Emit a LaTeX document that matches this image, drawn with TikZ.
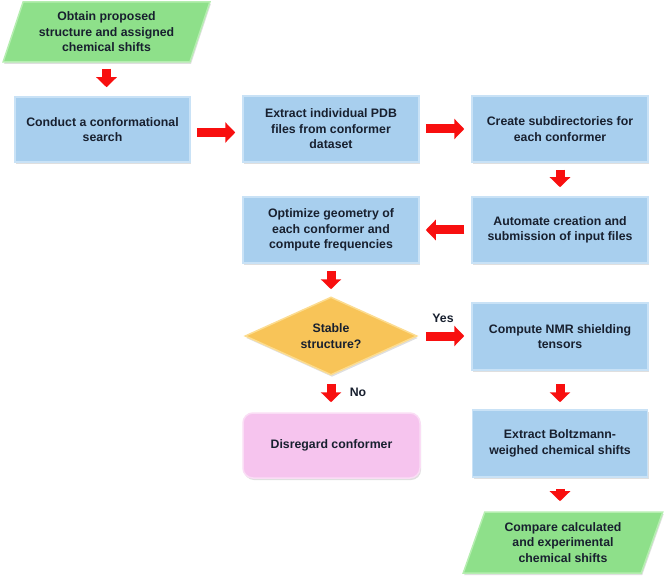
\documentclass[tikz,border=0pt]{standalone}
\usepackage{fontspec}
\setmainfont{Liberation Sans}
\usetikzlibrary{shapes.geometric,arrows.meta,shadows}
\definecolor{boxblue}{HTML}{A8CFEE}
\definecolor{boxblueedge}{HTML}{C9E2F6}
\definecolor{paragreen}{HTML}{8EE08A}
\definecolor{paragreenedge}{HTML}{B5EEB0}
\definecolor{diamyellow}{HTML}{F8C458}
\definecolor{diamedge}{HTML}{FCDC90}
\definecolor{pinkbox}{HTML}{F6C4EE}
\definecolor{pinkedge}{HTML}{FADDF5}
\definecolor{txtdark}{HTML}{18202F}
\definecolor{arrred}{HTML}{F80F0F}
\tikzset{
  base/.style={font=\bfseries\fontsize{12.3}{15.5}\selectfont, text=txtdark, align=center,
    line width=1.5pt, drop shadow={opacity=0.25, shadow xshift=1pt, shadow yshift=-2pt}},
  bluebox/.style={base, rectangle, fill=boxblue, draw=boxblueedge, minimum width=176pt, minimum height=66pt},
  greenpara/.style={base, trapezium, trapezium left angle=70, trapezium right angle=110,
    trapezium stretches=true, fill=paragreen, draw=paragreenedge},
  decision/.style={base, diamond, aspect=2.2, inner sep=0pt, fill=diamyellow, draw=diamedge,
    minimum width=172pt, minimum height=78pt},
  pinkbox/.style={base, rectangle, rounded corners=10pt, fill=pinkbox, draw=pinkedge,
    minimum width=177pt, minimum height=65pt},
  bigarrow/.style={draw=arrred, line width=9pt, -{Triangle[width=20pt,length=10pt,fill=arrred]}},
  lbl/.style={font=\bfseries\fontsize{12.3}{14}\selectfont, text=txtdark}
}
\begin{document}
\begin{tikzpicture}[x=1pt,y=-1pt]
\useasboundingbox (0,0) rectangle (666,577);
\node[greenpara, minimum width=207pt, minimum height=60pt] (obtain) at (106.5,32) {Obtain proposed\\structure and assigned\\chemical shifts};
\node[bluebox, minimum width=175pt, minimum height=65pt] (conduct) at (102.5,129.5) {Conduct a conformational\\search};
\node[bluebox] (extract) at (331,129) {Extract individual PDB\\files from conformer\\dataset};
\node[bluebox] (create) at (560,129) {Create subdirectories for\\each conformer};
\node[bluebox] (automate) at (560,230) {Automate creation and\\submission of input files};
\node[bluebox] (optimize) at (331,230) {Optimize geometry of\\each conformer and\\compute frequencies};
\node[decision] (stable) at (331,336) {Stable\\structure?};
\node[bluebox, minimum height=67pt] (nmr) at (560,336.5) {Compute NMR shielding\\tensors};
\node[pinkbox] (disregard) at (331.5,445.5) {Disregard conformer};
\node[bluebox, minimum width=175pt, minimum height=67pt] (boltz) at (560,443.5) {Extract Boltzmann-\\weighed chemical shifts};
\node[greenpara, minimum width=200pt, minimum height=61pt] (compare) at (563,542.5) {Compare calculated\\and experimental\\chemical shifts};
\node[lbl] (yes) at (443,318) {Yes};
\node[lbl] (no) at (358,392) {No};

\draw[bigarrow, shorten <=6pt, shorten >=9pt] (obtain.south) -- (obtain.south |- conduct.north);
\draw[bigarrow, shorten <=6pt, shorten >=7pt] ([yshift=-3pt]conduct.east) -- ([yshift=-3pt]conduct.east -| extract.west);
\draw[bigarrow, shorten <=6pt, shorten >=7pt] (extract.east) -- (create.west);
\draw[bigarrow, shorten <=7pt, shorten >=9pt] (create.south) -- (automate.north);
\draw[bigarrow, shorten <=7pt, shorten >=6pt] (automate.west) -- (optimize.east);
\draw[bigarrow, shorten <=7pt, shorten >=7pt] (optimize.south) -- (stable.north);
\draw[bigarrow, shorten <=8pt, shorten >=7pt] (stable.east) -- (stable.east -| nmr.west);
\draw[bigarrow, shorten <=8pt, shorten >=10pt] (stable.south) -- (stable.south |- disregard.north);
\draw[bigarrow, shorten <=13pt, shorten >=7pt] (nmr.south) -- (boltz.north);
\draw[bigarrow, shorten <=11pt, shorten >=10pt] (boltz.south) -- (boltz.south |- compare.north);
\end{tikzpicture}
\end{document}
